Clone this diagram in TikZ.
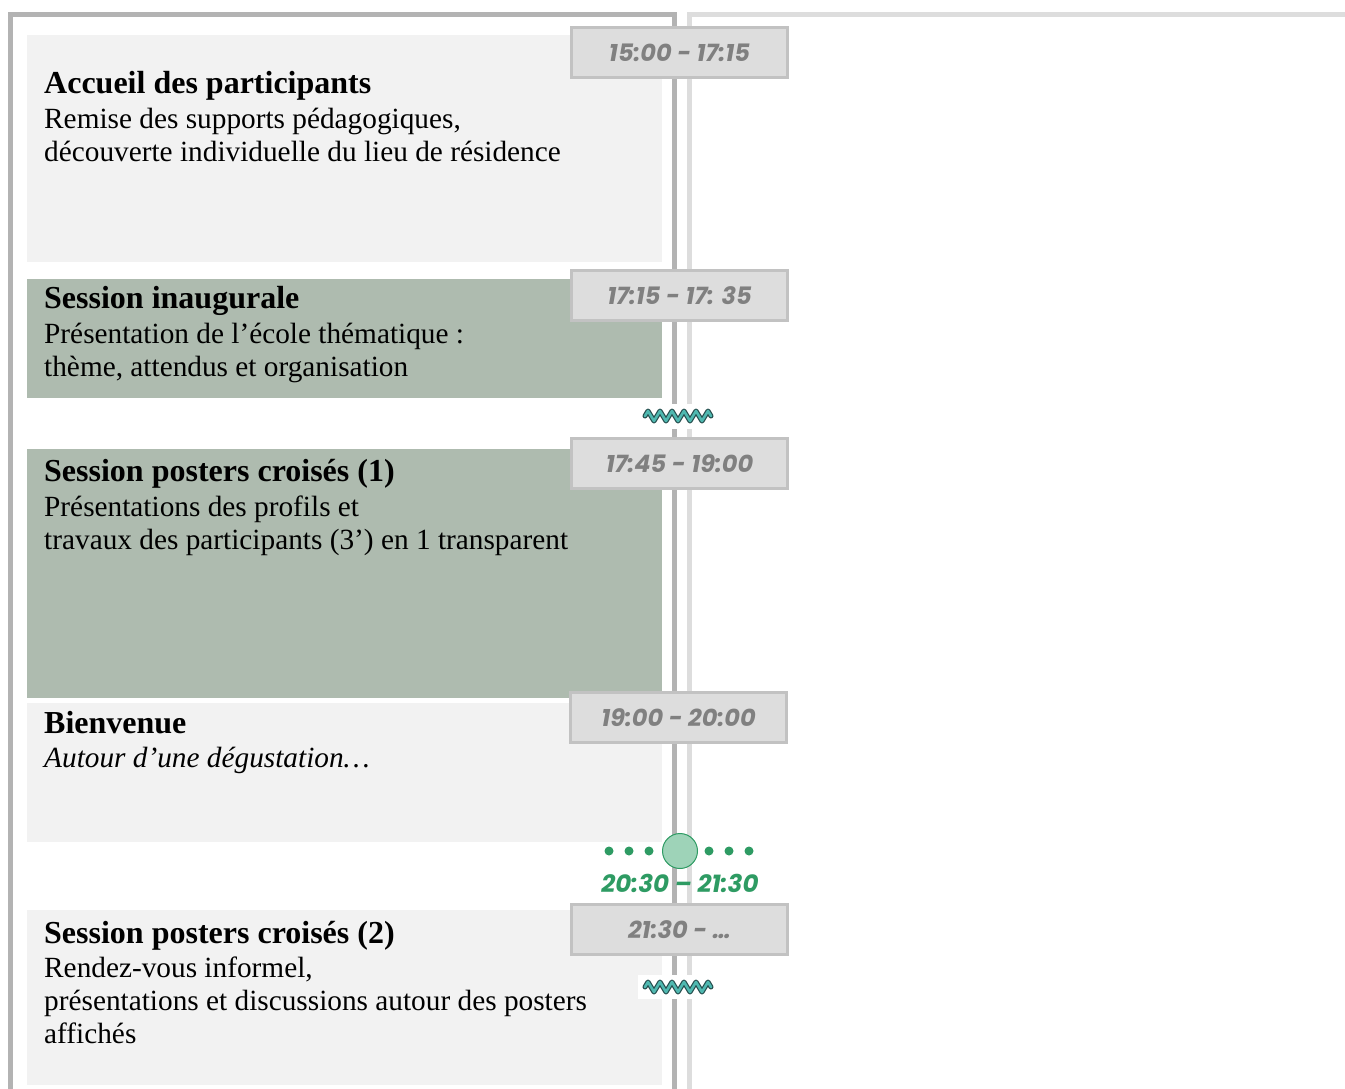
\documentclass[tikz,border=0pt]{standalone}
\usepackage{fontspec}
\setmainfont{Liberation Serif}
\newfontfamily\hourfont{Poppins}
\usetikzlibrary{decorations.pathmorphing}
\definecolor{framegrey}{RGB}{179,179,179}
\definecolor{railgrey}{RGB}{221,221,221}
\definecolor{paneshade}{RGB}{242,242,242}
\definecolor{panesage}{RGB}{174,187,175}
\definecolor{hourfill}{RGB}{221,221,221}
\definecolor{hourrule}{RGB}{194,194,194}
\definecolor{hourtext}{RGB}{128,128,128}
\definecolor{breakgreen}{RGB}{46,155,99}
\definecolor{breakmint}{RGB}{158,211,184}
\definecolor{waveteal}{RGB}{79,184,176}
\definecolor{wavedark}{RGB}{38,78,78}

\begin{document}
\begin{tikzpicture}[x=1pt,y=-1pt,
    pane/.style={fill=paneshade,draw=none,anchor=north west,inner sep=0pt,
      minimum width=635pt},
    sagepane/.style={pane,fill=panesage},
    hourbox/.style={fill=hourfill,draw=hourrule,line width=3pt,inner sep=0pt,
      minimum width=216pt,minimum height=50pt,text=hourtext,
      font=\hourfont\bfseries\itshape\fontsize{24}{28}\selectfont},
    headline/.style={anchor=base west,inner sep=0pt,
      font=\bfseries\fontsize{32}{36}\selectfont},
    bodyline/.style={anchor=base west,inner sep=0pt,
      font=\fontsize{29.3}{33}\selectfont},
    dot/.style={circle,fill=breakgreen,inner sep=0pt,minimum size=9pt},
    wave/.style={decorate,decoration={zigzag,segment length=12pt,amplitude=5pt},
      line join=round,line cap=round}]
    \useasboundingbox (0,0) rectangle (1345,1088);
    \draw[framegrey,line width=5pt] (10.5,1090) -- (10.5,14.5) -- (674.5,14.5)
      -- (674.5,1090);
    \draw[railgrey,line width=5pt] (1347,14.5) -- (689.5,14.5) -- (689.5,1090);

    \node[pane,minimum height=227pt] (accueil) at (27,35) {};
    \node[sagepane,minimum height=119pt] (inaugurale) at (27,279) {};
    \node[sagepane,minimum height=249pt] (postersun) at (27,449) {};
    \node[pane,minimum height=139pt] (bienvenue) at (27,703) {};
    \node[pane,minimum height=175pt] (postersdeux) at (27,910) {};

    \node[headline] (accueilt) at (44,93) {Accueil des participants};
    \node[bodyline] (accueila) at (44,128) {Remise des supports pédagogiques,};
    \node[bodyline] (accueilb) at (44,161) {découverte individuelle du lieu de résidence};

    \node[headline] (inaugt) at (44,308) {Session inaugurale};
    \node[bodyline] (inauga) at (44,343) {Présentation de l’école thématique :};
    \node[bodyline] (inaugb) at (44,376) {thème, attendus et organisation};

    \node[headline] (unt) at (44,481) {Session posters croisés (1)};
    \node[bodyline] (una) at (44,516) {Présentations des profils et};
    \node[bodyline] (unb) at (44,549) {travaux des participants (3’) en 1 transparent};

    \node[headline] (bient) at (44,733) {Bienvenue};
    \node[bodyline] (biena) at (44,767) {\itshape Autour d’une dégustation…};

    \node[headline] (deuxt) at (44,943) {Session posters croisés (2)};
    \node[bodyline] (deuxa) at (44,977) {Rendez-vous informel,};
    \node[bodyline] (deuxb) at (44,1010) {présentations et discussions autour des posters};
    \node[bodyline] (deuxc) at (44,1043) {affichés};

    \node[hourbox] (hun) at (679.5,52.5) {15:00 - 17:15};
    \node[hourbox] (hdeux) at (679.5,295.5) {17:15 - 17: 35};
    \node[hourbox] (htrois) at (679.5,463.5) {17:45 - 19:00};
    \node[hourbox] (hquatre) at (678.5,717.5) {19:00 - 20:00};
    \node[hourbox] (hcinq) at (679.5,929.5) {21:30 - …};

    \fill[white] (638,404) rectangle (717,429);
    \draw[wave,wavedark,line width=5pt] (645,416) -- (711,416);
    \draw[wave,waveteal,line width=2.6pt] (645,416) -- (711,416);
    \fill[white] (638,975) rectangle (717,999);
    \draw[wave,wavedark,line width=5pt] (645,987) -- (711,987);
    \draw[wave,waveteal,line width=2.6pt] (645,987) -- (711,987);

    \node[dot] (da) at (609,851) {};
    \node[dot] (db) at (629,851) {};
    \node[dot] (dc) at (649,851) {};
    \node[circle,fill=breakmint,draw=breakgreen,line width=1pt,minimum size=35pt,
      inner sep=0pt] (pause) at (680,851) {};
    \node[dot] (dd) at (709,851) {};
    \node[dot] (de) at (729,851) {};
    \node[dot] (df) at (749,851) {};
    \node[anchor=base,inner sep=0pt,text=breakgreen,
      font=\hourfont\bfseries\itshape\fontsize{24.5}{28}\selectfont]
      (pauseh) at (680,892) {20:30 – 21:30};
  \end{tikzpicture}
\end{document}
